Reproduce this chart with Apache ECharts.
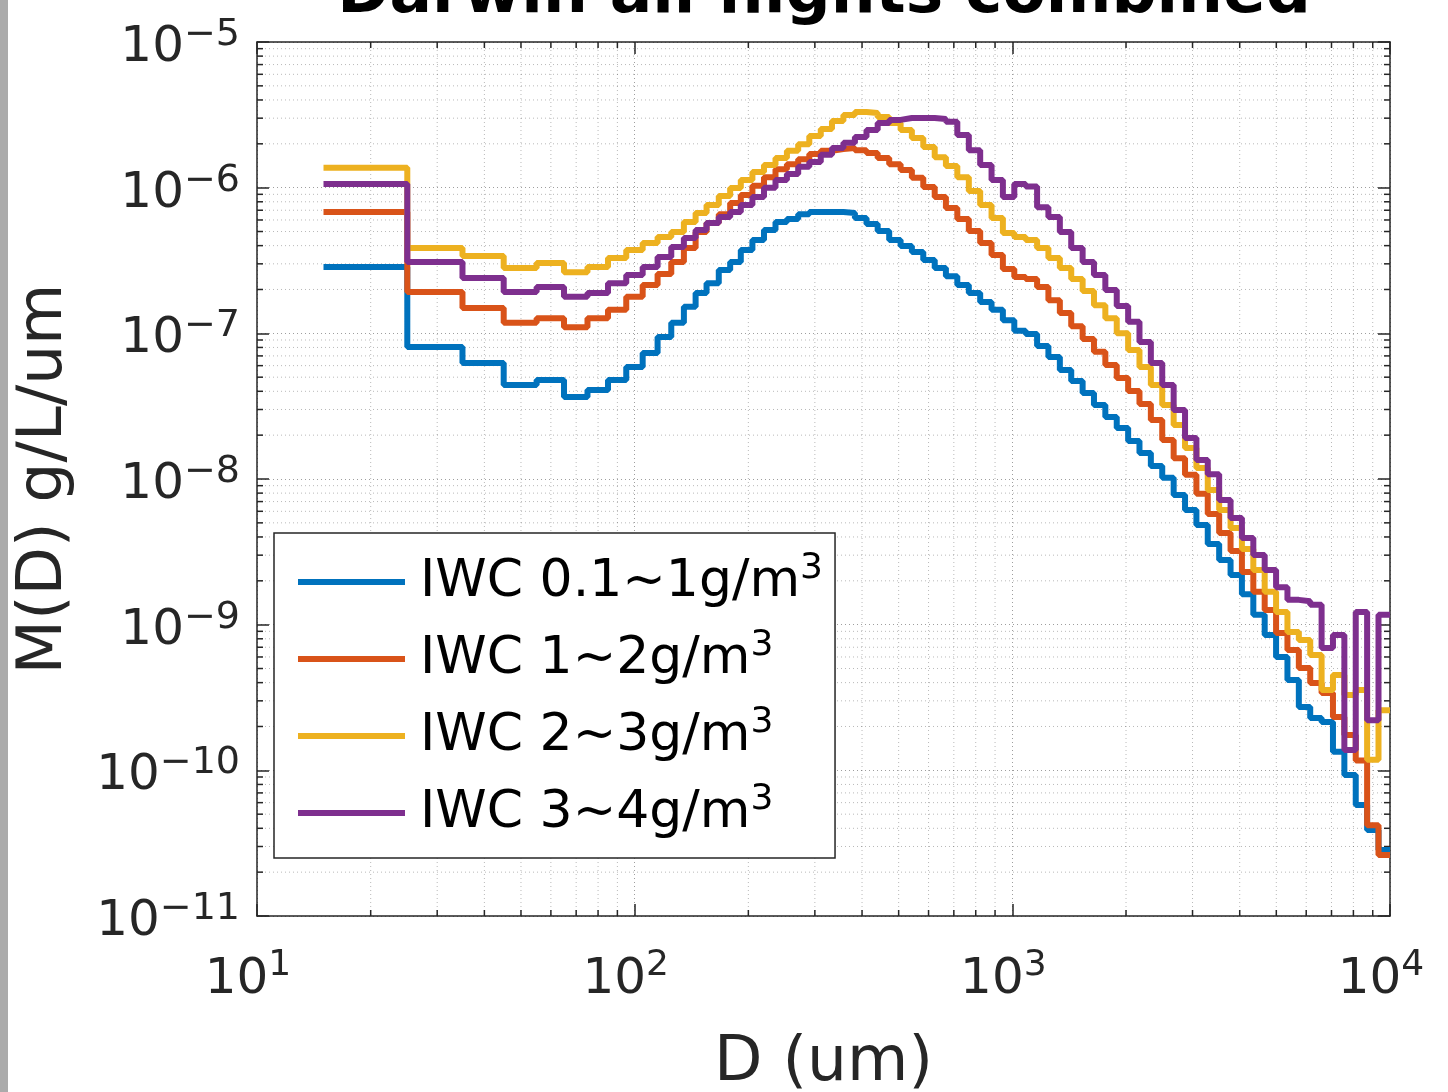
<!DOCTYPE html>
<html>
<head>
<meta charset="utf-8">
<title>Darwin all flights combined</title>
<script src="https://cdn.jsdelivr.net/npm/echarts@6/dist/echarts.min.js"></script>
<style>
  html, body { margin: 0; padding: 0; background: #fff; }
  #chart { width: 1448px; height: 1092px; }
</style>
</head>
<body>
<div id="chart"></div>
<script>
// size bin edges (um), 10 um bins first, then log spaced bins
const binEdges = [15, 25, 35, 45, 55, 65, 75, 85, 95, 105, 115, 125, 135, 145,
  155, 167, 179, 191, 205, 220, 236, 253, 271, 290, 311, 333, 357, 383, 411, 440,
  472, 506, 542, 581, 623, 667, 715, 767, 822, 881, 944, 1012, 1085, 1163, 1246,
  1336, 1432, 1535, 1645, 1763, 1890, 2026, 2171, 2327, 2494, 2674, 2866, 3072,
  3292, 3529, 3783, 4054, 4346, 4658, 4993, 5351, 5736, 6148, 6590, 7063, 7571,
  8115, 8698, 9323, 10000];

const seriesNames = ['IWC 0.1~1g/m3', 'IWC 1~2g/m3', 'IWC 2~3g/m3', 'IWC 3~4g/m3'];
const seriesColors = ['#0072BD', '#D95319', '#EDB120', '#7E2F8E'];

// M(D) g/L/um per bin
const iwc01to1 = [2.85e-7, 8.06e-8, 6.25e-8, 4.42e-8, 4.78e-8, 3.66e-8, 4.08e-8, 4.78e-8, 5.87e-8, 7.32e-8,
  9.44e-8, 1.18e-7, 1.52e-7, 1.89e-7, 2.21e-7, 2.72e-7, 3.09e-7, 3.73e-7, 4.37e-7, 5.12e-7,
  5.81e-7, 6.09e-7, 6.58e-7, 6.81e-7, 6.81e-7, 6.81e-7, 6.70e-7, 6.19e-7, 5.63e-7, 5.04e-7,
  4.37e-7, 3.97e-7, 3.62e-7, 3.19e-7, 2.81e-7, 2.47e-7, 2.15e-7, 1.89e-7, 1.64e-7, 1.45e-7,
  1.23e-7, 1.04e-7, 9.9e-8, 8.18e-8, 6.88e-8, 5.6e-8, 4.71e-8, 3.89e-8, 3.22e-8, 2.66e-8,
  2.24e-8, 1.82e-8, 1.51e-8, 1.23e-8, 1.02e-8, 7.78e-9, 6.13e-9, 4.84e-9, 3.58e-9, 2.78e-9,
  2.19e-9, 1.62e-9, 1.17e-9, 8.48e-10, 6.0e-10, 4.17e-10, 2.72e-10, 2.29e-10, 2.15e-10, 1.34e-10,
  9.29e-11, 5.79e-11, 3.89e-11, 2.84e-11];
const iwc1to2 = [6.81e-7, 1.92e-7, 1.49e-7, 1.18e-7, 1.27e-7, 1.10e-7, 1.27e-7, 1.45e-7, 1.78e-7, 2.15e-7,
  2.55e-7, 3.09e-7, 3.85e-7, 4.96e-7, 5.72e-7, 6.58e-7, 7.85e-7, 8.90e-7, 1.03e-6, 1.18e-6,
  1.34e-6, 1.45e-6, 1.57e-6, 1.70e-6, 1.79e-6, 1.84e-6, 1.87e-6, 1.81e-6, 1.73e-6, 1.60e-6,
  1.45e-6, 1.32e-6, 1.17e-6, 1.01e-6, 8.62e-7, 7.25e-7, 6.09e-7, 5.04e-7, 4.17e-7, 3.45e-7,
  2.76e-7, 2.44e-7, 2.36e-7, 2.08e-7, 1.69e-7, 1.38e-7, 1.12e-7, 9.15e-8, 7.46e-8, 6.06e-8,
  4.94e-8, 4.02e-8, 3.27e-8, 2.54e-8, 1.85e-8, 1.39e-8, 1.07e-8, 7.91e-9, 5.75e-9, 4.26e-9,
  3.20e-9, 2.30e-9, 1.68e-9, 1.26e-9, 8.75e-10, 6.70e-10, 5.04e-10, 3.97e-10, 3.39e-10, 2.32e-10,
  1.75e-10, 1.17e-10, 4.2e-11, 2.62e-11];
const iwc2to3 = [1.37e-6, 3.85e-7, 3.39e-7, 2.81e-7, 3.04e-7, 2.63e-7, 2.85e-7, 3.29e-7, 3.73e-7, 4.17e-7,
  4.58e-7, 4.96e-7, 5.81e-7, 6.70e-7, 7.60e-7, 8.75e-7, 9.94e-7, 1.13e-6, 1.28e-6, 1.43e-6,
  1.60e-6, 1.79e-6, 1.99e-6, 2.26e-6, 2.53e-6, 2.87e-6, 3.15e-6, 3.31e-6, 3.25e-6, 3.06e-6,
  2.78e-6, 2.49e-6, 2.19e-6, 1.90e-6, 1.62e-6, 1.41e-6, 1.18e-6, 9.49e-7, 7.60e-7, 6.19e-7,
  4.88e-7, 4.58e-7, 4.37e-7, 3.85e-7, 3.29e-7, 2.81e-7, 2.36e-7, 1.95e-7, 1.56e-7, 1.27e-7,
  1.0e-7, 7.67e-8, 5.87e-8, 4.42e-8, 3.22e-8, 2.35e-8, 1.63e-8, 1.19e-8, 8.4e-9, 6.13e-9,
  4.61e-9, 3.31e-9, 2.37e-9, 1.68e-9, 1.22e-9, 8.9e-10, 7.85e-10, 6.19e-10, 3.56e-10, 4.51e-10,
  3.29e-10, 3.56e-10, 1.18e-10, 2.59e-10];
const iwc3to4 = [1.06e-6, 3.09e-7, 2.40e-7, 1.92e-7, 2.08e-7, 1.78e-7, 1.89e-7, 2.21e-7, 2.51e-7, 2.85e-7,
  3.34e-7, 3.91e-7, 4.51e-7, 5.12e-7, 5.72e-7, 6.28e-7, 6.81e-7, 7.60e-7, 8.62e-7, 1.0e-6,
  1.13e-6, 1.24e-6, 1.39e-6, 1.50e-6, 1.68e-6, 1.87e-6, 2.03e-6, 2.23e-6, 2.49e-6, 2.78e-6,
  2.92e-6, 3.01e-6, 3.01e-6, 3.01e-6, 2.96e-6, 2.83e-6, 2.30e-6, 1.81e-6, 1.43e-6, 1.13e-6,
  8.62e-7, 1.06e-6, 1.02e-6, 7.33e-7, 6.28e-7, 4.96e-7, 3.85e-7, 3.09e-7, 2.51e-7, 1.98e-7,
  1.54e-7, 1.2e-7, 8.73e-8, 6.25e-8, 4.42e-8, 2.98e-8, 1.91e-8, 1.35e-8, 1.08e-8, 7.18e-9,
  5.40e-9, 3.94e-9, 3.01e-9, 2.37e-9, 1.81e-9, 1.48e-9, 1.45e-9, 1.37e-9, 6.91e-10, 8.48e-10,
  1.38e-10, 1.22e-9, 2.21e-10, 1.17e-9];

// log axis helpers for the minor grid
const minorSteps = [2, 3, 4, 5, 6, 7, 8, 9];
const xDecades = [10, 100, 1000];
const yDecades = [1e-11, 1e-10, 1e-9, 1e-8, 1e-7, 1e-6];

const FONT = 'DejaVu Sans';
const AXIS_COLOR = '#262626';

// stairs: each bin value held from its left edge to the next edge
function stairs(vals) {
  return binEdges.map((d, i) => [d, vals[Math.min(i, vals.length - 1)]]);
}

function powLabel(v) {
  const e = Math.round(Math.log10(v));
  return '{b|10}{s|' + (e < 0 ? '\u2212' + (-e) : e) + '}';
}

function renderMinor(params, api) {
  const lb = api.coord([10, 1e-11]);
  const rt = api.coord([10000, 1e-5]);
  const kids = [];
  const dot = () => ({ stroke: 'rgba(0,0,0,0.28)', lineWidth: 1, lineDash: [1, 3] });
  const tk = () => ({ stroke: AXIS_COLOR, lineWidth: 1.5 });
  xDecades.forEach(d => minorSteps.forEach(m => {
    const x = api.coord([d * m, 1e-11])[0];
    kids.push({ type: 'line', shape: { x1: x, y1: rt[1], x2: x, y2: lb[1] }, style: dot() });
    kids.push({ type: 'line', shape: { x1: x, y1: lb[1], x2: x, y2: lb[1] - 6 }, style: tk() });
    kids.push({ type: 'line', shape: { x1: x, y1: rt[1], x2: x, y2: rt[1] + 6 }, style: tk() });
  }));
  yDecades.forEach(d => minorSteps.forEach(m => {
    const y = api.coord([10, d * m])[1];
    kids.push({ type: 'line', shape: { x1: lb[0], y1: y, x2: rt[0], y2: y }, style: dot() });
    kids.push({ type: 'line', shape: { x1: lb[0], y1: y, x2: lb[0] + 6, y2: y }, style: tk() });
    kids.push({ type: 'line', shape: { x1: rt[0], y1: y, x2: rt[0] - 6, y2: y }, style: tk() });
  }));
  return { type: 'group', children: kids, silent: true };
}

const majorGrid = { show: true, lineStyle: { color: 'rgba(0,0,0,0.38)', width: 1, type: [1, 3] } };
const axisLine = { show: true, lineStyle: { color: AXIS_COLOR, width: 1.5 } };
const axisTick = { show: true, inside: true, length: 12, lineStyle: { color: AXIS_COLOR, width: 1.5 } };
const tickRich = {
  b: { fontSize: 50, fontFamily: FONT, color: AXIS_COLOR, lineHeight: 64 },
  s: { fontSize: 38, fontFamily: FONT, color: AXIS_COLOR, lineHeight: 30, verticalAlign: 'top' }
};

const chart = echarts.init(document.getElementById('chart'));
chart.setOption({
  animation: false,
  backgroundColor: '#fff',
  title: {
    text: 'Darwin all flights combined',
    left: 824,
    textAlign: 'center',
    top: -36,
    padding: 0,
    textStyle: { fontSize: 63, fontWeight: 'bold', fontFamily: FONT, color: '#000' }
  },
  graphic: [{
    type: 'rect', left: 0, top: 0, shape: { width: 8, height: 1092 },
    style: { fill: '#ababab' }, silent: true
  }],
  grid: { left: 257, right: 58, top: 42, bottom: 176, outerBoundsMode: 'none' },
  legend: {
    data: seriesNames,
    left: 274,
    top: 533,
    orient: 'vertical',
    icon: 'rect',
    itemWidth: 107,
    itemHeight: 6,
    itemGap: 20,
    padding: [18, 12, 19, 24],
    backgroundColor: '#fff',
    borderColor: AXIS_COLOR,
    borderWidth: 1.5,
    borderRadius: 0,
    formatter: name => '{t|' + name.slice(0, -1) + '}{s|3}',
    textStyle: {
      fontFamily: FONT,
      color: '#000',
      rich: {
        t: { fontSize: 52, fontFamily: FONT, lineHeight: 62, padding: [0, 0, 0, 10], color: '#000' },
        s: { fontSize: 36, fontFamily: FONT, lineHeight: 24, verticalAlign: 'top', color: '#000' }
      }
    }
  },
  xAxis: [{
    type: 'log', logBase: 10, min: 10, max: 10000, splitNumber: 3,
    position: 'bottom',
    axisLine, axisTick, splitLine: majorGrid,
    axisLabel: {
      margin: 32,
      formatter: powLabel,
      rich: {
        b: tickRich.b,
        s: Object.assign({}, tickRich.s, { fontSize: 36, padding: [0, 18, 0, 0] })
      }
    },
    name: 'D (um)', nameLocation: 'middle', nameGap: 116,
    nameTextStyle: { fontSize: 63, fontFamily: FONT, color: AXIS_COLOR }
  }, {
    type: 'log', logBase: 10, min: 10, max: 10000, splitNumber: 3,
    position: 'top',
    axisLine, axisTick, splitLine: { show: false }, axisLabel: { show: false }
  }],
  yAxis: [{
    type: 'log', logBase: 10, min: 1e-11, max: 1e-5, splitNumber: 6,
    position: 'left',
    axisLine, axisTick, splitLine: majorGrid,
    axisLabel: { margin: 17, padding: [12, 0, 0, 0], formatter: powLabel, rich: tickRich },
    name: 'M(D) g/L/um', nameLocation: 'middle', nameGap: 181,
    nameTextStyle: { fontSize: 63, fontFamily: FONT, color: AXIS_COLOR }
  }, {
    type: 'log', logBase: 10, min: 1e-11, max: 1e-5, splitNumber: 6,
    position: 'right',
    axisLine, axisTick, splitLine: { show: false }, axisLabel: { show: false }
  }],
  series: [
    {
      type: 'custom', name: 'minor', renderItem: renderMinor,
      data: [[10, 1e-11]], silent: true, z: 1
    },
    ...[iwc01to1, iwc1to2, iwc2to3, iwc3to4].map((vals, i) => ({
      type: 'line',
      name: seriesNames[i],
      step: 'end',
      symbol: 'none',
      z: 3,
      color: seriesColors[i],
      lineStyle: { width: 6, color: seriesColors[i] },
      data: stairs(vals)
    }))
  ]
});
</script>
</body>
</html>
